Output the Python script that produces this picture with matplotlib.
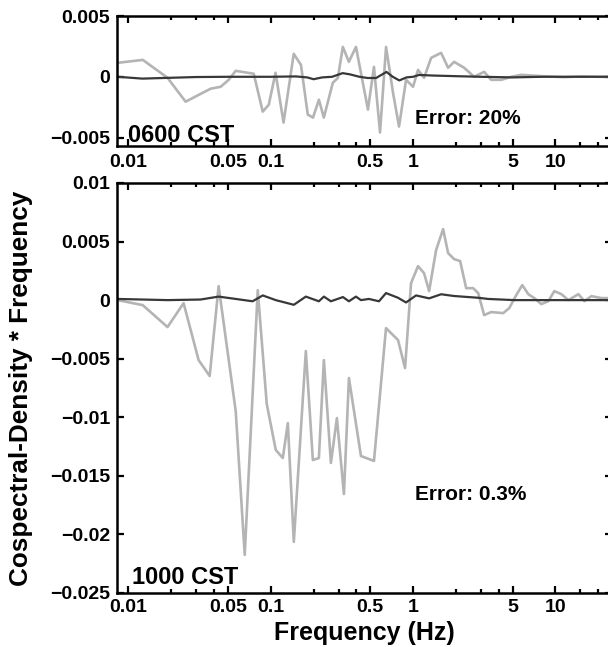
import matplotlib
matplotlib.use("Agg")
import matplotlib.pyplot as plt
from matplotlib.ticker import FixedLocator, NullFormatter

plt.rcParams["font.family"] = ["Liberation Sans", "DejaVu Sans"]
plt.rcParams["font.weight"] = "bold"

# ---- data ----------------------------------------------------------------
# 0600 CST panel
f_06_meas = [0.0084, 0.0126, 0.0188, 0.0252, 0.0378, 0.0445, 0.0506, 0.0567,
             0.0759, 0.0878, 0.0968, 0.108, 0.123, 0.145, 0.163, 0.182, 0.198,
             0.218, 0.236, 0.273, 0.296, 0.321, 0.354, 0.397, 0.482, 0.531,
             0.586, 0.646, 0.723, 0.797, 0.893, 1.0, 1.084, 1.195, 1.34, 1.575,
             1.764, 1.944, 2.287, 2.69, 3.16, 3.54, 4.17, 4.9, 5.76, 8.0, 11.5,
             15.0, 20.0, 25.0]
c_06_meas = [0.00115, 0.00139, -0.00008, -0.00205, -0.00098, -0.00082, -0.00025,
             0.00049, 0.00025, -0.00287, -0.0023, 0.00033, -0.00377, 0.00189,
             0.00098, -0.00311, -0.00336, -0.00189, -0.00336, -0.00049, -0.0001,
             0.00246, 0.00123, 0.00246, -0.0027, 0.00082, -0.00459, 0.00246,
             -0.00131, -0.0041, -0.00025, -0.00082, 0.00057, -0.00008, 0.00156,
             0.00197, 0.00074, 0.00123, 0.00074, 0.0, 0.00041, -0.00025, -0.00025,
             0.0, 0.00016, 0.00005, -0.00003, 0.00003, 0.0, 0.0]
f_06_err = [0.0084, 0.0125, 0.02, 0.03, 0.05, 0.1, 0.15, 0.18, 0.2, 0.23, 0.27,
            0.32, 0.36, 0.42, 0.48, 0.55, 0.65, 0.72, 0.8, 0.9, 1.0, 1.1, 1.4,
            2.0, 3.0, 5.0, 8.0, 12.0, 25.0]
c_06_err = [0.0, -0.00015, -0.00008, -0.00002, 0.0, 0.0, 0.00003, -0.00005,
            -0.0002, -0.00005, 0.0, 0.0003, 0.0002, 0.0, -0.0001, -0.0001,
            0.0004, 0.0, -0.0003, -0.00005, 0.0, 0.00015, 0.0001, 0.00005, 0.0,
            -0.00005, 0.0, 0.0, 0.0]

# 1000 CST panel
f_10_meas = [0.0084, 0.0126, 0.0188, 0.0244, 0.0311, 0.0372, 0.0430, 0.0567,
             0.0656, 0.0810, 0.0937, 0.1084, 0.1215, 0.1318, 0.1452, 0.1764,
             0.1976, 0.2178, 0.2362, 0.2646, 0.2916, 0.3267, 0.3543, 0.4303,
             0.5314, 0.6455, 0.7842, 0.8786, 0.968, 1.084, 1.195, 1.297, 1.452,
             1.627, 1.764, 1.944, 2.143, 2.362, 2.646, 2.869, 3.16, 3.54, 4.303,
             4.745, 5.314, 5.857, 6.455, 7.115, 7.969, 8.927, 9.84, 11.02, 12.35,
             14.52, 16.0, 17.93, 21.1, 25.0]
c_10_meas = [0.0, -0.00043, -0.0023, -0.00026, -0.00512, -0.00648, 0.00119,
             -0.00947, -0.02175, 0.00085, -0.00887, -0.01279, -0.01348, -0.0105,
             -0.02064, -0.00435, -0.01365, -0.01348, -0.00512, -0.0139, -0.01007,
             -0.01655, -0.00665, -0.01331, -0.01373, -0.00239, -0.00341, -0.0058,
             0.00145, 0.0029, 0.0023, 0.00077, 0.00427, 0.00606, 0.00401, 0.0035,
             0.00333, 0.00102, 0.00102, 0.0006, -0.00128, -0.00102, -0.00111,
             -0.00068, 0.00043, 0.00128, 0.00051, 0.00017, -0.00034, -0.00009,
             0.00077, 0.00051, 0.0, 0.00051, -0.00009, 0.00034, 0.00017, 0.00017]
f_10_err = [0.0084, 0.0188, 0.0321, 0.043, 0.0567, 0.0745, 0.0878, 0.1084,
            0.1452, 0.1764, 0.2178, 0.2362, 0.2646, 0.3214, 0.3543, 0.3969,
            0.4303, 0.49, 0.576, 0.6455, 0.7842, 0.8927, 1.05, 1.297, 1.575,
            1.944, 2.869, 3.37, 5.14, 25.0]
c_10_err = [0.0001, 0.0, 0.00005, 0.0003, 0.0001, -0.0001, 0.0004, 0.0, -0.0004,
            0.0003, -0.0001, 0.0003, -0.0001, 0.00026, -0.0001, 0.0003, 0.0,
            0.0001, -0.0001, 0.0006, 0.0002, -0.0002, 0.0004, 0.00015, 0.0005,
            0.00035, 0.0002, 0.0001, 0.0, 0.0]

xticks = [0.01, 0.05, 0.1, 0.5, 1, 5, 10]
xticklabels = ["0.01", "0.05", "0.1", "0.5", "1", "5", "10"]
xminor = [0.02, 0.03, 0.04, 0.2, 0.3, 0.4, 2, 3, 4, 15, 20]

yticks_06 = [-0.005, 0, 0.005]
ylabels_06 = ["\u22120.005", "0", "0.005"]
yticks_10 = [-0.025, -0.02, -0.015, -0.01, -0.005, 0, 0.005, 0.01]
ylabels_10 = ["\u22120.025", "\u22120.02", "\u22120.015", "\u22120.01",
              "\u22120.005", "0", "0.005", "0.01"]

GRAY = "#b4b4b4"
DARK = "#383838"
XLIM = (0.0083, 25)

fig = plt.figure(figsize=(6.08, 6.47), dpi=100)
ax1 = fig.add_axes([0.1924, 0.7743, 0.8141, 0.2009])
ax2 = fig.add_axes([0.1924, 0.0835, 0.8141, 0.6337])


def style(ax, yt, yl, xpad):
    ax.set_xscale("log")
    ax.set_xlim(*XLIM)
    ax.xaxis.set_major_locator(FixedLocator(xticks))
    ax.set_xticklabels(xticklabels)
    ax.xaxis.set_minor_locator(FixedLocator(xminor))
    ax.xaxis.set_minor_formatter(NullFormatter())
    ax.set_yticks(yt)
    ax.set_yticklabels(yl)
    ax.tick_params(which="both", direction="in", top=True, right=True,
                   width=1.6, labelsize=14)
    ax.tick_params(which="major", length=5)
    ax.tick_params(which="minor", length=3)
    ax.tick_params(axis="x", pad=xpad)
    ax.tick_params(axis="y", pad=5)
    for s in ax.spines.values():
        s.set_linewidth(1.8)


ax1.plot(f_06_meas, c_06_meas, color=GRAY, lw=1.9)
ax1.plot(f_06_err, c_06_err, color=DARK, lw=1.6)
ax1.set_ylim(-0.0057, 0.005)
style(ax1, yticks_06, ylabels_06, 6)
ax1.text(0.022, 0.03, "0600 CST", transform=ax1.transAxes, fontsize=17,
         fontweight="bold", ha="left", va="baseline")
ax1.text(0.602, 0.169, "Error: 20%", transform=ax1.transAxes, fontsize=15,
         fontweight="bold", ha="left", va="baseline")

ax2.plot(f_10_meas, c_10_meas, color=GRAY, lw=1.9)
ax2.plot(f_10_err, c_10_err, color=DARK, lw=1.6)
ax2.set_ylim(-0.025, 0.01)
style(ax2, yticks_10, ylabels_10, 4.5)
ax2.text(0.03, 0.022, "1000 CST", transform=ax2.transAxes, fontsize=17,
         fontweight="bold", ha="left", va="baseline")
ax2.text(0.602, 0.227, "Error: 0.3%", transform=ax2.transAxes, fontsize=15,
         fontweight="bold", ha="left", va="baseline")
ax2.set_xlabel("Frequency (Hz)", fontsize=18, fontweight="bold")
ax2.set_ylabel("Cospectral-Density * Frequency", fontsize=18.8, fontweight="bold")
ax2.xaxis.set_label_coords(0.5, -0.068)
ax2.yaxis.set_label_coords(-0.17, 0.5)

fig.savefig("out.png", dpi=100)
